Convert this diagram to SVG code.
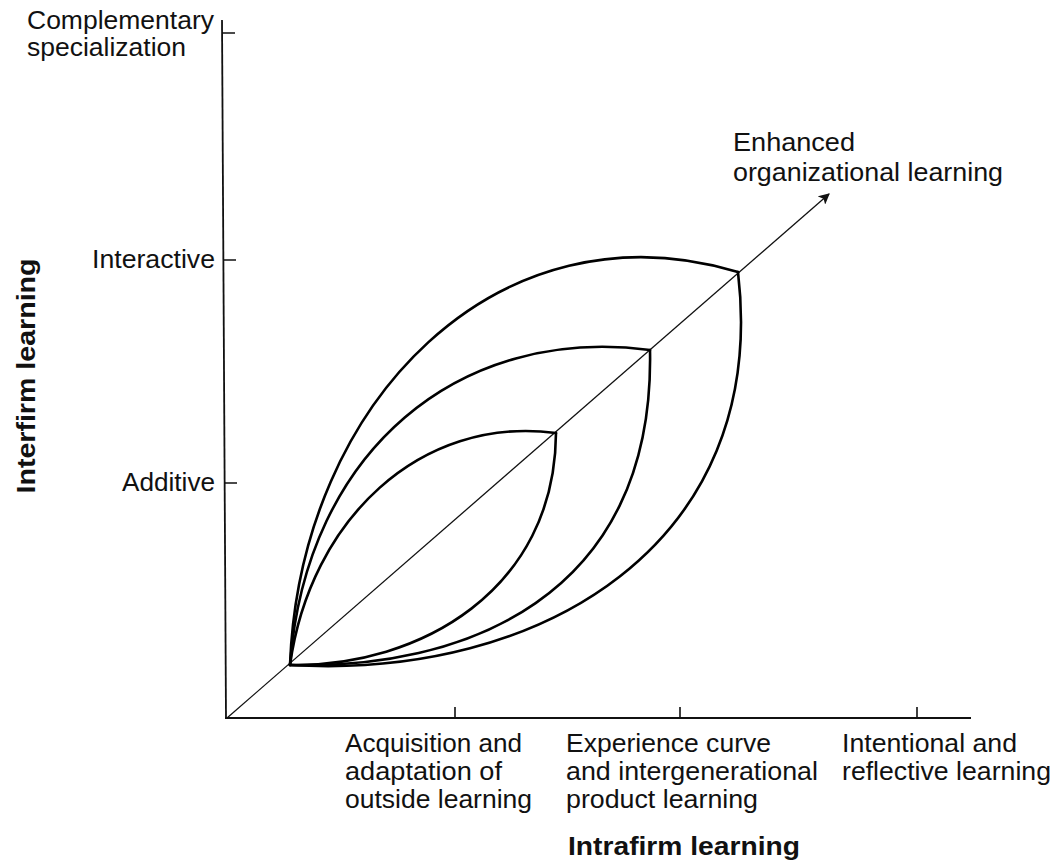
<svg xmlns="http://www.w3.org/2000/svg" width="1055" height="864" viewBox="0 0 1055 864">
  <style>
    .lbl { font-family: "Liberation Sans", Arial, Helvetica, sans-serif; font-size: 25.5px; fill: #111; }
    .ttl { font-family: "Liberation Sans", Arial, Helvetica, sans-serif; font-size: 26px; font-weight: bold; fill: #111; }
    .axis { stroke: #111; stroke-width: 1.8; fill: none; }
    .tick { stroke: #111; stroke-width: 1.6; fill: none; }
    .curve { stroke: #000; stroke-width: 2.6; fill: none; stroke-linejoin: round; stroke-linecap: round; }
    .diag { stroke: #111; stroke-width: 1.3; fill: none; }
  </style>
  <defs>
    <marker id="arrowhead" viewBox="0 0 10 10" refX="9" refY="5" markerWidth="11" markerHeight="11" markerUnits="userSpaceOnUse" orient="auto">
      <path d="M0,0 L10,5 L0,10 L2.5,5 Z" fill="#111"/>
    </marker>
  </defs>
  <rect width="1055" height="864" fill="#fff"/>

  <!-- axes with ticks -->
  <g id="axes">
    <path class="axis" d="M222,20 L226,719"/>
    <path class="axis" d="M225,718 L971,718"/>
    <path class="tick" d="M222,33 L235,33 M223,260 L236,260 M224,483 L237,483"/>
    <path class="tick" d="M455,718 L455,707 M680,718 L680,707 M917,718 L917,707"/>
  </g>

  <!-- diagonal learning trajectory and nested learning envelopes -->
  <g id="connectors">
    <path class="diag" d="M227,718 L829,194" marker-end="url(#arrowhead)"/>
    <!-- inner envelope -->
    <path class="curve" d="M290,665 C310,520 420,415 556,433"/>
    <path class="curve" d="M290,665 C420,667 555,590 556,433"/>
    <!-- middle envelope -->
    <path class="curve" d="M290,665 C306,450 460,325 650,350"/>
    <path class="curve" d="M290,665 C460,670 655,600 650,350"/>
    <!-- outer envelope -->
    <path class="curve" d="M290,665 C300,400 500,200 738,272"/>
    <path class="curve" d="M290,665 C540,680 770,545 738,272"/>
  </g>

  <!-- vertical axis labels -->
  <g id="y-top">
    <text class="lbl" x="27" y="29" textLength="187" lengthAdjust="spacingAndGlyphs">Complementary</text>
    <text class="lbl" x="27" y="56" textLength="159" lengthAdjust="spacingAndGlyphs">specialization</text>
  </g>
  <g id="y-interactive">
    <text class="lbl" x="92" y="268" textLength="123" lengthAdjust="spacingAndGlyphs">Interactive</text>
  </g>
  <g id="y-additive">
    <text class="lbl" x="122" y="491" textLength="93" lengthAdjust="spacingAndGlyphs">Additive</text>
  </g>
  <g id="y-title">
    <text class="ttl" transform="translate(35,376) rotate(-90)" text-anchor="middle" textLength="235" lengthAdjust="spacingAndGlyphs">Interfirm learning</text>
  </g>

  <!-- trajectory label -->
  <g id="enhanced">
    <text class="lbl" x="733" y="151" textLength="122" lengthAdjust="spacingAndGlyphs">Enhanced</text>
    <text class="lbl" x="733" y="181" textLength="270" lengthAdjust="spacingAndGlyphs">organizational learning</text>
  </g>

  <!-- horizontal axis labels -->
  <g id="x-acquisition">
    <text class="lbl" x="345" y="752" textLength="177" lengthAdjust="spacingAndGlyphs">Acquisition and</text>
    <text class="lbl" x="345" y="780" textLength="157" lengthAdjust="spacingAndGlyphs">adaptation of</text>
    <text class="lbl" x="345" y="808" textLength="187" lengthAdjust="spacingAndGlyphs">outside learning</text>
  </g>
  <g id="x-experience">
    <text class="lbl" x="566" y="752" textLength="205" lengthAdjust="spacingAndGlyphs">Experience curve</text>
    <text class="lbl" x="566" y="780" textLength="252" lengthAdjust="spacingAndGlyphs">and intergenerational</text>
    <text class="lbl" x="566" y="808" textLength="192" lengthAdjust="spacingAndGlyphs">product learning</text>
  </g>
  <g id="x-intentional">
    <text class="lbl" x="842" y="752" textLength="175" lengthAdjust="spacingAndGlyphs">Intentional and</text>
    <text class="lbl" x="842" y="780" textLength="209" lengthAdjust="spacingAndGlyphs">reflective learning</text>
  </g>
  <g id="x-title">
    <text class="ttl" x="568" y="855" textLength="232" lengthAdjust="spacingAndGlyphs">Intrafirm learning</text>
  </g>
</svg>
